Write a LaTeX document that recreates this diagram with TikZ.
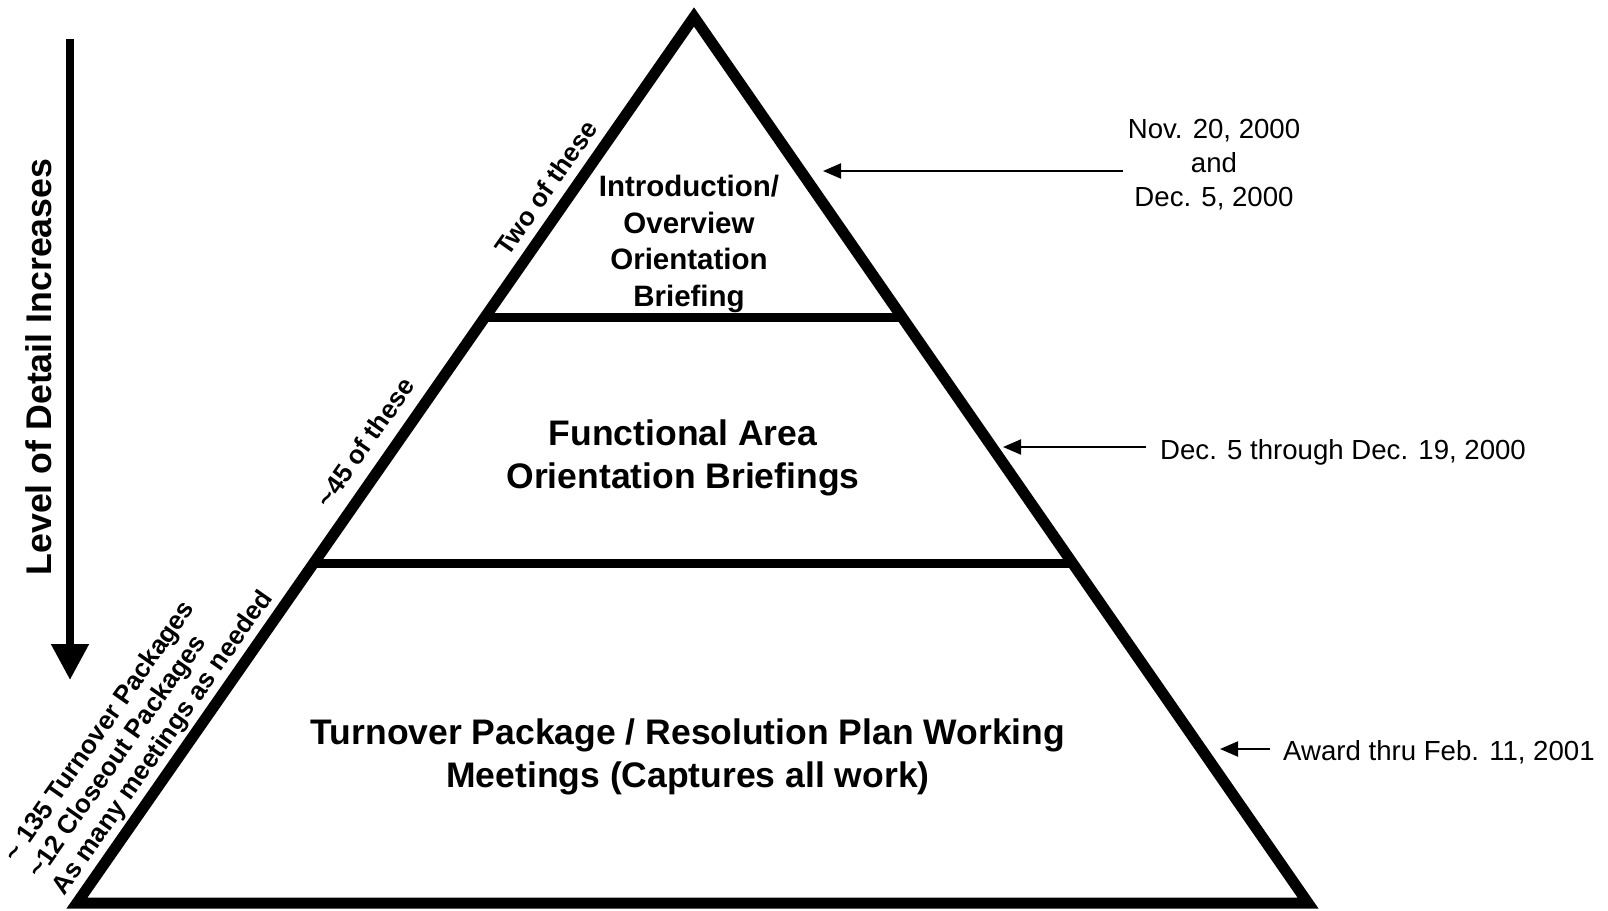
\documentclass[tikz,border=0pt]{standalone}
\usepackage{fontspec}
\setmainfont{Liberation Sans}
\usetikzlibrary{arrows.meta,calc}
\begin{document}
\begin{tikzpicture}[x=1pt,y=-1pt,
  pyr/.style={line width=11pt, line join=miter},
  divider/.style={line width=9pt},
  thinarrow/.style={line width=2pt, -{Triangle[length=18pt,width=15pt]}},
  bigarrow/.style={line width=8pt, -{Triangle[length=36pt,width=36pt]}},
  tierlbl/.style={inner sep=0pt, align=center, font=\bfseries\fontsize{35.5}{43}\selectfont},
  toplbl/.style={inner sep=0pt, align=center, font=\bfseries\fontsize{29.5}{36.6}\selectfont},
  datelbl/.style={inner sep=0pt, align=center, font=\fontsize{27.6}{34}\selectfont},
  sidelbl/.style={inner sep=0pt, align=left, rotate=55, font=\bfseries\fontsize{26}{29}\selectfont},
]
\useasboundingbox (0,0) rectangle (1608,910);

% pyramid
\coordinate (A) at (694,17);
\coordinate (L) at (77,903);
\coordinate (R) at (1308,903);
\draw[pyr] (A) -- (L) -- (R) -- cycle;
\coordinate (d1l) at ($(A)!0.3397!(L)$);
\coordinate (d1r) at ($(A)!0.3397!(R)$);
\coordinate (d2l) at ($(A)!0.6163!(L)$);
\coordinate (d2r) at ($(A)!0.6163!(R)$);
\draw[divider] (d1l) -- (d1r);
\draw[divider] (d2l) -- (d2r);

% tier labels
\node[toplbl] (t1) at (689,244) {Introduction/\\Overview\\Orientation\\Briefing};
\node[tierlbl] (t2) at (683,458) {Functional Area\\Orientation Briefings};
\node[tierlbl] (t3) at (688,757) {Turnover Package / Resolution Plan Working\\Meetings (Captures all work)};

% level of detail arrow
\coordinate (lvtop) at (70,39);
\coordinate (lvbot) at (70,680);
\draw[bigarrow] (lvtop) -- (lvbot);
\node[inner sep=0pt, rotate=90, font=\bfseries\fontsize{35.7}{43}\selectfont] (lvl) at (39,367) {Level of Detail Increases};

% side counts
\node[sidelbl] (c1) at (546,188) {Two of these};
\node[sidelbl] (c2) at (365,442) {\textasciitilde45 of these};
\node[sidelbl, anchor=west] (c3) at (35,876) {\textasciitilde\ 135 Turnover Packages\\\textasciitilde12 Closeout Packages\\As many meetings as needed};

% dates
\node[datelbl] (dt1) at (1214,165) {Nov. 20, 2000\\and\\Dec. 5, 2000};
\coordinate (a1s) at (1123,171);
\coordinate (a1e) at (823,171);
\draw[thinarrow] (a1s) -- (a1e);

\node[datelbl, anchor=west] (dt2) at (1160,452) {Dec. 5 through Dec. 19, 2000};
\coordinate (a2s) at (1146,447);
\coordinate (a2e) at (1003,447);
\draw[thinarrow] (a2s) -- (a2e);

\node[datelbl, anchor=west] (dt3) at (1283,752) {Award thru Feb. 11, 2001};
\coordinate (a3s) at (1270,749);
\coordinate (a3e) at (1220,749);
\draw[thinarrow] (a3s) -- (a3e);
\end{tikzpicture}
\end{document}
